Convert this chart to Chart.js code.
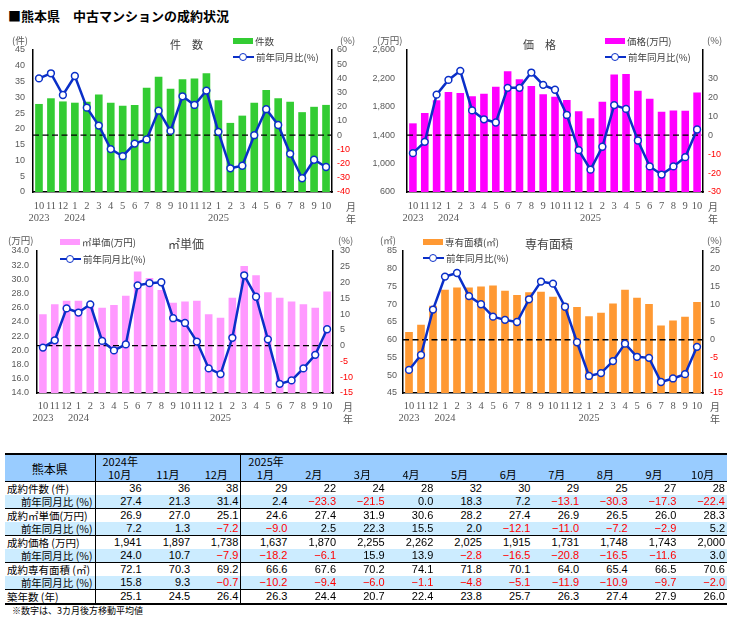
<!DOCTYPE html>
<html><head><meta charset="utf-8">
<script src="https://cdn.jsdelivr.net/npm/chart.js@4.4.1/dist/chart.umd.min.js"></script>
<style>
body{margin:0;background:#fff;width:750px;height:630px;position:relative;overflow:hidden;font-family:"Noto Sans CJK JP","Noto Sans",sans-serif;color:#000;}
.abs{position:absolute;white-space:nowrap;}
.unit{font-size:9.5px;line-height:10px;color:#595959;}
.ttl{font-size:12px;line-height:12px;color:#404040;}
.lg{font-size:9.5px;line-height:10px;color:#404040;}
.ym{font-size:10px;line-height:10px;color:#595959;}
canvas{position:absolute;}
#tbl{position:absolute;left:5px;top:453px;width:722px;border-collapse:collapse;table-layout:fixed;font-size:11px;}
#tbl td,#tbl th{padding:0 2px;height:13px;line-height:13px;white-space:nowrap;overflow:hidden;font-weight:normal;}
#tbl thead th{background:#99ccff;}
#tbl thead tr:first-child{border-top:2px solid #000;}
#tbl thead tr:last-child{border-bottom:1.5px solid #000;}
#tbl td{text-align:right;font-family:"Liberation Sans",Arial,sans-serif;}
#tbl td.lab{text-align:left;font-family:"Noto Sans CJK JP",sans-serif;font-size:10.5px;}
#tbl td.lab2{text-align:right;font-family:"Noto Sans CJK JP",sans-serif;font-size:10.5px;}
#tbl tr.yoy td{background:#ccecff;}
#tbl tr.sep{border-bottom:1.5px solid #000;}
#tbl tr.last{border-bottom:2px solid #000;}
#tbl .vl{border-right:1px solid #000;}
#tbl .neg{color:#ff0000;}
#tbl th.yr{text-align:left;padding-left:7px;}
#tbl th.mo{text-align:center;}
#tbl th.kn{font-size:12px;text-align:center;}
</style></head><body>

<div class="abs" style="left:8px;top:8px;font-size:13px;line-height:15px;font-weight:bold;color:#000;">■熊本県　中古マンションの成約状況</div>

<canvas id="c1" width="375" height="200" style="left:0;top:30px;"></canvas>
<canvas id="c2" width="385" height="200" style="left:365px;top:30px;"></canvas>
<canvas id="c3" width="375" height="200" style="left:0;top:230px;"></canvas>
<canvas id="c4" width="375" height="200" style="left:375px;top:230px;"></canvas>

<div id="overlay"></div>
<table id="tbl"></table>
<div class="abs" style="left:12px;top:606px;font-size:9px;line-height:10px;color:#000;">※数字は、3カ月後方移動平均値</div>

<script>
// ---- chart data (Oct 2023 - Oct 2025) ----
const months = ['10','11','12','1','2','3','4','5','6','7','8','9','10','11','12','1','2','3','4','5','6','7','8','9','10'];
const years  = ['2023','','','2024','','','','','','','','','','','','2025','','','','','','','','',''];
const countBars = [27.9,29.7,28.7,28.3,28.6,30.9,28.3,27.3,27.6,33.0,36.5,32.7,35.7,36.0,37.6,29.1,21.9,24.2,28.3,32.3,29.7,28.6,25.3,27.0,27.6];
const countYoY  = [40.0,43.6,28.3,41.7,19.4,6.8,-9.8,-14.8,-5.9,-3.0,17.3,3.0,27.4,21.3,31.4,2.4,-23.3,-21.5,0.0,18.3,7.2,-13.1,-30.3,-17.3,-22.4];
const priceBars = [1567,1713,1891,2008,1994,1947,1985,2084,2300,2187,2093,1976,1941,1897,1738,1637,1870,2255,2262,2025,1915,1731,1748,1743,2000];
const priceYoY  = [-9.5,-3.5,21.4,29.2,34.0,13.1,8.4,6.7,25.0,25.0,33.1,26.6,24.0,10.7,-7.9,-18.2,-6.1,15.9,13.9,-2.8,-16.5,-20.8,-16.5,-11.6,3.0];
const unitBars  = [25.1,26.5,27.0,27.0,26.6,26.0,26.4,27.7,31.1,30.2,28.5,26.7,26.9,27.0,25.1,24.6,27.4,31.9,30.6,28.2,27.4,26.9,26.5,26.0,28.3];
const unitYoY   = [-0.6,1.7,11.8,10.5,13.1,1.5,-1.5,0.4,19.1,19.8,20.1,8.7,7.2,1.3,-7.2,-9.0,2.5,22.3,15.5,2.0,-12.1,-11.0,-7.2,-2.9,5.2];
const areaBars  = [62.2,64.2,69.6,74.1,74.7,74.7,75.0,75.3,73.8,72.6,73.4,73.5,72.1,70.3,69.2,66.6,67.6,70.2,74.1,71.8,70.1,64.0,65.4,66.5,70.6];
const areaYoY   = [-8.5,-4.3,8.5,17.8,18.8,12.3,10.0,6.5,5.6,5.0,11.4,16.4,15.8,9.3,-0.7,-10.2,-9.4,-6.0,-1.1,-4.8,-5.1,-11.9,-10.9,-9.7,-2.0];

// ---- table data (Oct 2024 - Oct 2025) ----
const tblYears  = ['2024年','2025年'];
const tblMonths = ['10月','11月','12月','1月','2月','3月','4月','5月','6月','7月','8月','9月','10月'];
const tCount    = [36,36,38,29,22,24,28,32,30,29,25,27,28];
const tCountYoY = [27.4,21.3,31.4,2.4,-23.3,-21.5,0.0,18.3,7.2,-13.1,-30.3,-17.3,-22.4];
const tUnit     = [26.9,27.0,25.1,24.6,27.4,31.9,30.6,28.2,27.4,26.9,26.5,26.0,28.3];
const tUnitYoY  = [7.2,1.3,-7.2,-9.0,2.5,22.3,15.5,2.0,-12.1,-11.0,-7.2,-2.9,5.2];
const tPrice    = [1941,1897,1738,1637,1870,2255,2262,2025,1915,1731,1748,1743,2000];
const tPriceYoY = [24.0,10.7,-7.9,-18.2,-6.1,15.9,13.9,-2.8,-16.5,-20.8,-16.5,-11.6,3.0];
const tArea     = [72.1,70.3,69.2,66.6,67.6,70.2,74.1,71.8,70.1,64.0,65.4,66.5,70.6];
const tAreaYoY  = [15.8,9.3,-0.7,-10.2,-9.4,-6.0,-1.1,-4.8,-5.1,-11.9,-10.9,-9.7,-2.0];
const tAge      = [25.1,24.5,26.4,26.3,24.4,20.7,22.4,23.8,25.7,26.3,27.4,27.9,26.0];

const BLUE = '#0a2fc8';
const TICK = '#595959';

const zeroLine = {
  id:'zeroLine',
  afterDatasetDraw(chart, args){
    if (args.meta.type !== 'bar') return;
    const y = chart.scales.y1.getPixelForValue(0);
    const a = chart.chartArea, ctx = chart.ctx;
    ctx.save();
    ctx.strokeStyle = '#000'; ctx.lineWidth = 1.3; ctx.setLineDash([6,3.5]);
    ctx.beginPath(); ctx.moveTo(a.left, y); ctx.lineTo(a.right, y); ctx.stroke();
    ctx.restore();
  }
};

function makeChart(id, o){
  const labels = months.map((m,i)=>[m, years[i]]);
  return new Chart(document.getElementById(id), {
    type:'bar',
    data:{labels, datasets:[
      {type:'line', label:'前年同月比(%)', data:o.yoy, yAxisID:'y1', order:0, borderColor:BLUE, borderWidth:2.5,
       pointRadius:3.4, pointBackgroundColor:'#fff', pointBorderColor:BLUE, pointBorderWidth:1.5, tension:0},
      {type:'bar', label:o.name, data:o.bars, yAxisID:'y', order:1, backgroundColor:o.color,
       barPercentage:0.64, categoryPercentage:1}
    ]},
    options:{
      responsive:false, animation:false, events:[],
      layout:{padding:{top:o.top,left:0,right:0,bottom:0}},
      plugins:{legend:{display:false}, tooltip:{enabled:false}, title:{display:false}},
      scales:{
        x:{grid:{display:false,drawTicks:false}, border:{display:true,color:'#000',width:1.5},
           ticks:{autoSkip:false,maxRotation:0,minRotation:0,padding:o.xpad,color:TICK,
                  font:{family:'Liberation Serif',size:10.5,lineHeight:1.15}},
           afterFit:s=>{s.height=o.xh;}},
        y:{position:'left', min:o.lmin, max:o.lmax,
           grid:{display:false,drawTicks:false}, border:{display:true,color:'#000',width:1.5},
           ticks:{stepSize:o.lstep, padding:o.lpad, color:TICK, font:{family:'Liberation Sans',size:9},
                  callback:o.lfmt},
           afterFit:s=>{s.width=o.lw;}},
        y1:{position:'right', min:o.rmin, max:o.rmax,
           grid:{display:false,drawTicks:false}, border:{display:true,color:'#000',width:1.5},
           ticks:{stepSize:o.rstep, padding:o.rpad, font:{family:'Liberation Sans',size:9},
                  color:c=> (c.tick && c.tick.value<0) ? '#ff0000' : TICK},
           afterBuildTicks:s=>{ if(o.rtop!==undefined){ s.ticks = s.ticks.filter(t=>t.value<=o.rtop); } },
           afterFit:s=>{s.width=o.rw;}}
      }
    },
    plugins:[zeroLine]
  });
}

makeChart('c1',{name:'件数', bars:countBars, yoy:countYoY, color:'#33cc33',
  top:20, lw:33, rw:43, xh:38, xpad:8, lpad:8, rpad:5,
  lmin:0,lmax:45,lstep:5, rmin:-40,rmax:60,rstep:10, lfmt:v=>v});
makeChart('c2',{name:'価格(万円)', bars:priceBars, yoy:priceYoY, color:'#ff00ff',
  top:20, lw:42, rw:47, xh:38, xpad:8, lpad:12, rpad:5,
  lmin:600,lmax:2600,lstep:400, rmin:-30,rmax:45,rstep:10, rtop:40, lfmt:v=>v.toLocaleString('en-US')});
makeChart('c3',{name:'㎡単価(万円)', bars:unitBars, yoy:unitYoY, color:'#ff99ff',
  top:21, lw:37, rw:42, xh:37, xpad:7, lpad:8, rpad:7,
  lmin:14,lmax:34,lstep:2, rmin:-15,rmax:30,rstep:5, lfmt:v=>v.toFixed(1)});
makeChart('c4',{name:'専有面積(㎡)', bars:areaBars, yoy:areaYoY, color:'#ff9933',
  top:21, lw:28, rw:47, xh:37, xpad:7, lpad:6, rpad:7,
  lmin:45,lmax:85,lstep:5, rmin:-15,rmax:25,rstep:5, lfmt:v=>v});

// ---- overlay texts / legends ----
const ov = document.getElementById('overlay');
function txt(cls, s, x, cy, extra){
  const d = document.createElement('div');
  d.className = 'abs ' + cls; d.textContent = s;
  d.style.left = x + 'px';
  const lh = cls==='ttl' ? 12 : 10;
  d.style.top = (cy - lh/2) + 'px';
  if (extra) Object.assign(d.style, extra);
  ov.appendChild(d);
}
function box(x, y, w, h, color){
  const d = document.createElement('div');
  d.className='abs'; Object.assign(d.style,{left:x+'px',top:y+'px',width:w+'px',height:h+'px',background:color});
  ov.appendChild(d);
}
function lineSym(x, cy, w){
  box(x, cy-1.25, w, 2.5, BLUE);
  const c = document.createElement('div');
  c.className='abs';
  Object.assign(c.style,{left:(x+w/2-4.4)+'px',top:(cy-4.4)+'px',width:'6px',height:'6px',border:'1.5px solid '+BLUE,borderRadius:'50%',background:'#fff'});
  ov.appendChild(c);
}
const panels = [
  {ux:12, uy:40, unit:'(件)', tx:170, ty:44, title:'件　数', tsize:11, lx:233, ly1:41, ly2:57, lname:'件数', color:'#33cc33', px:340, mx:346, my:207},
  {ux:377, uy:40, unit:'(万円)', tx:523, ty:44, title:'価　格', tsize:11, lx:605, ly1:41, ly2:57, lname:'価格(万円)', color:'#ff00ff', px:707, mx:708, my:207},
  {ux:8, uy:240, unit:'(万円)', tx:168, ty:244, title:'㎡単価', tsize:12, lx:60, ly1:242, ly2:259, lname:'㎡単価(万円)', color:'#ff99ff', px:338, mx:343, my:407},
  {ux:380, uy:240, unit:'(㎡)', tx:525, ty:244, title:'専有面積', tsize:12, lx:423, ly1:242, ly2:258, lname:'専有面積(㎡)', color:'#ff9933', px:707, mx:710, my:407}
];
panels.forEach(p=>{
  txt('unit', p.unit, p.ux, p.uy);
  txt('unit', '(%)', p.px, p.uy);
  txt('ttl', p.title, p.tx, p.ty, {fontSize:p.tsize+'px'});
  box(p.lx, p.ly1-3, 20, 6, p.color);
  txt('lg', p.lname, p.lx+22, p.ly1);
  lineSym(p.lx, p.ly2, 21);
  txt('lg', '前年同月比(%)', p.lx+23, p.ly2);
  txt('ym', '月', p.mx, p.my);
  txt('ym', '年', p.mx, p.my+12);
});

// ---- table ----
const tbl = document.getElementById('tbl');
const fmt1 = v => (v<0 ? '−' + Math.abs(v).toFixed(1) : v.toFixed(1));
const fmtInt = v => String(v);
const fmtComma = v => v.toLocaleString('en-US');
let html = '<colgroup><col style="width:90px">' + tblMonths.map(()=>'<col style="width:48.62px">').join('') + '</colgroup>';
html += '<thead><tr><th rowspan="2" class="kn vl">熊本県</th><th colspan="3" class="yr vl">'+tblYears[0]+'</th><th colspan="10" class="yr">'+tblYears[1]+'</th></tr>';
html += '<tr>' + tblMonths.map((m,i)=>'<th class="mo'+(i===2?' vl':'')+'">'+m+'</th>').join('') + '</tr></thead><tbody>';
function row(label, arr, f, cls, labCls){
  let s = '<tr class="'+cls+'"><td class="'+labCls+' vl">'+label+'</td>';
  arr.forEach((v,i)=>{ s += '<td class="'+(v<0?'neg':'')+(i===2?' vl':'')+'">'+f(v)+'</td>'; });
  return s + '</tr>';
}
html += row('成約件数 (件)', tCount, fmtInt, '', 'lab');
html += row('前年同月比 (%)', tCountYoY, fmt1, 'yoy sep', 'lab2');
html += row('成約㎡単価(万円)', tUnit, fmt1, '', 'lab');
html += row('前年同月比 (%)', tUnitYoY, fmt1, 'yoy sep', 'lab2');
html += row('成約価格 (万円)', tPrice, fmtComma, '', 'lab');
html += row('前年同月比 (%)', tPriceYoY, fmt1, 'yoy sep', 'lab2');
html += row('成約専有面積 (㎡)', tArea, fmt1, '', 'lab');
html += row('前年同月比 (%)', tAreaYoY, fmt1, 'yoy sep', 'lab2');
html += row('築年数 (年)', tAge, fmt1, 'last', 'lab');
html += '</tbody>';
tbl.innerHTML = html;
</script>
</body></html>
